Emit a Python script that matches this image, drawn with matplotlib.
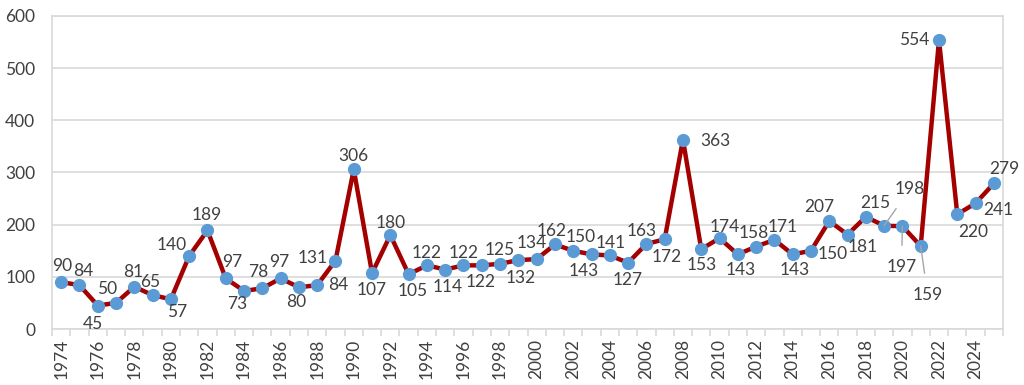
import matplotlib.pyplot as plt
import numpy as np

plt.rcParams['font.family'] = ['Lato', 'DejaVu Sans']

years = list(range(1974, 2026))
values = [90, 84, 45, 50, 81, 65, 57, 140, 189, 97, 73, 78, 97, 80, 84, 131,
          306, 107, 180, 105, 122, 114, 122, 122, 125, 132, 134, 162, 150, 143,
          141, 127, 163, 172, 363, 153, 174, 143, 158, 171, 143, 150, 207, 181,
          215, 198, 197, 159, 554, 220, 241, 279]

# label offsets in pixels (dx, dy), dy positive = up
label_off = [(1, 16), (4, 14), (-5, -18), (-9, 14), (-1, 15), (-2, 13), (6, -13), (-17, 11),
             (-1, 15), (7, 16), (-7, -13), (-4, 16), (-1, 16), (-3, -15), (21, 0), (-23, 3),
             (0, 13), (0, -17), (0, 12), (4, -17), (0, 12), (2, -17), (0, 12), (-1, -17),
             (0, 14), (2, -18), (-5, 16), (-3, 13), (7, 14), (-8, -17), (1, 12), (0, -17),
             (-5, 13), (2, -18), (32, -1), (1, -16), (5, 11), (3, -16), (-2, 14), (8, 13),
             (2, -16), (22, -3), (-10, 14), (15, -12), (9, 14), (26, 37), (-1, -41), (7, -49),
             (-25, 0), (16, -18), (23, -7), (10, 14)]
leader = [False] * len(values)
leader[45] = leader[46] = leader[47] = True

red = '#A50000'
blue = '#5B9BD5'
txt = '#404040'
grid = '#D9D9D9'
fs = 12.5

fig = plt.figure(figsize=(10.24, 3.85), dpi=100)
ax = fig.add_axes([52 / 1024, 1 - 329 / 385, 951 / 1024, 313 / 385])

x = np.arange(len(years))
ax.plot(x, values, color=red, lw=3.2, zorder=2)
ax.plot(x, values, 'o', color=blue, ms=8.5, zorder=3)

for i, v in enumerate(values):
    dx, dy = label_off[i]
    if leader[i]:
        ax.annotate(str(v), (x[i], v), xytext=(dx, dy), textcoords='offset pixels',
                    ha='center', va='center', fontsize=fs, color=txt, zorder=4,
                    arrowprops=dict(arrowstyle='-', color='#A6A6A6', lw=1,
                                    shrinkA=8, shrinkB=0))
    else:
        ax.annotate(str(v), (x[i], v), xytext=(dx, dy), textcoords='offset pixels',
                    ha='center', va='center', fontsize=fs, color=txt, zorder=4)

ax.set_xlim(-0.5, len(years) - 0.5)
ax.set_ylim(0, 600)
ax.set_yticks(range(0, 601, 100))
ax.yaxis.grid(True, color=grid, lw=1.2)
ax.set_axisbelow(True)
ax.tick_params(axis='y', length=0, labelsize=fs, colors=txt, pad=12)

ax.set_xticks(x[::2])
ax.set_xticklabels([str(y) for y in years[::2]], rotation=90, fontsize=fs, color=txt)
ax.set_xticks(np.arange(-0.5, len(years), 1), minor=True)
ax.tick_params(axis='x', which='major', length=0, pad=7)
ax.tick_params(axis='x', which='minor', length=5, color=grid, width=1.2)

for s in ax.spines.values():
    s.set_color(grid)
    s.set_linewidth(1.2)

fig.savefig('out.png', dpi=100)
